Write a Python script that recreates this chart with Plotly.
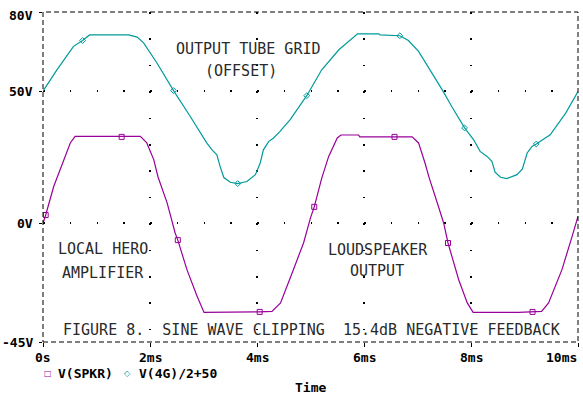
import plotly.graph_objects as go

# ---- data ----
# V(4G)/2+50  (output tube grid, offset)
grid_t = [0.00, 0.26, 0.57, 0.74, 0.87, 1.60, 1.76, 1.88, 2.13, 2.44, 2.75, 2.91,
          3.06, 3.16, 3.25, 3.31, 3.38, 3.50, 3.64, 3.81, 3.97, 4.06, 4.12, 4.22,
          4.31, 4.43, 4.62, 4.93, 5.21, 5.53, 5.84, 5.88, 6.28, 6.30, 6.67, 6.83,
          7.02, 7.27, 7.46, 7.64, 7.88, 8.05, 8.17, 8.30, 8.39, 8.45, 8.55, 8.67,
          8.86, 8.96, 9.05, 9.14, 9.22, 9.48, 9.77, 10.00]
grid_v = [50.0, 58.1, 67.0, 69.2, 71.3, 71.3, 70.5, 68.3, 60.7, 50.2, 40.5, 35.4,
          30.4, 27.8, 25.9, 21.5, 17.3, 15.5, 15.0, 15.8, 18.4, 22.8, 27.8, 31.0,
          32.3, 34.8, 39.2, 48.3, 58.1, 65.7, 71.3, 71.7, 71.7, 71.3, 71.0, 69.2,
          65.1, 56.9, 50.6, 44.2, 36.1, 31.6, 27.2, 25.3, 23.4, 19.3, 17.4, 16.9,
          18.4, 20.6, 26.6, 29.1, 30.0, 33.5, 41.7, 49.9]
grid_mark_t = [0.74, 2.44, 3.64, 4.93, 6.67, 7.88, 9.22]
grid_mark_v = [69.2, 50.2, 15.0, 48.3, 71.0, 36.1, 30.0]

# V(SPKR)  (loudspeaker output)
spkr_t = [0.00, 0.05, 0.20, 0.32, 0.39, 0.51, 0.60, 1.82, 1.94, 2.07, 2.15, 2.32,
          2.47, 2.52, 2.69, 2.88, 3.01, 3.94, 4.05, 4.28, 4.44, 4.68, 4.87, 5.00,
          5.07, 5.21, 5.34, 5.50, 5.57, 5.90, 5.92, 6.90, 7.02, 7.14, 7.22, 7.39,
          7.49, 7.57, 7.77, 7.93, 8.04, 8.89, 9.15, 9.32, 9.45, 9.70, 9.89, 10.00]
spkr_v = [0.0, 3.1, 13.9, 20.3, 24.1, 30.4, 32.9, 32.9, 30.4, 24.1, 17.5, 7.7,
          -3.7, -6.4, -17.6, -27.7, -33.8, -33.8, -33.6, -33.4, -30.2, -17.6, -7.5, 2.0,
          6.2, 17.1, 25.3, 32.3, 33.4, 33.4, 32.7, 32.7, 30.4, 22.8, 17.1, 6.4,
          0.0, -7.5, -21.4, -30.2, -33.8, -33.8, -33.6, -33.4, -30.2, -17.6, -5.0, 2.6]
spkr_mark_t = [0.05, 1.47, 2.52, 4.05, 5.07, 6.57, 7.57, 9.15]
spkr_mark_v = [3.1, 32.7, -6.4, -33.6, 6.2, 32.7, -7.5, -33.6]

x_tickvals = [0, 2, 4, 6, 8, 10]
x_ticktext = ["0s", "2ms", "4ms", "6ms", "8ms", "10ms"]
y_tickvals = [-45, 0, 50, 80]
y_ticktext = ["-45V", "0V", "50V", "80V"]

CYAN = "#009a9a"
PURPLE = "#990099"
MONO = "DejaVu Sans Mono"

W, H = 583, 396
ML, MR, MT, MB = 43, 5, 12, 54
PW, PH = W - ML - MR, H - MT - MB

fig = go.Figure()
fig.add_trace(go.Scatter(x=grid_t, y=grid_v, mode="lines",
                         line=dict(color=CYAN, width=1.2), showlegend=False,
                         name="V(4G)/2+50"))
fig.add_trace(go.Scatter(x=grid_mark_t, y=grid_mark_v, mode="markers",
                         marker=dict(symbol="diamond-open", size=4.5, color=CYAN,
                                     line=dict(width=1, color=CYAN)),
                         showlegend=False, name="V(4G)/2+50"))
fig.add_trace(go.Scatter(x=spkr_t, y=spkr_v, mode="lines",
                         line=dict(color=PURPLE, width=1.2), showlegend=False,
                         name="V(SPKR)"))
fig.add_trace(go.Scatter(x=spkr_mark_t, y=spkr_mark_v, mode="markers",
                         marker=dict(symbol="square-open", size=5, color=PURPLE,
                                     line=dict(width=1, color=PURPLE)),
                         showlegend=False, name="V(SPKR)"))

# dotted grids: dots every 0.5 ms along horizontal lines, every 10 V along vertical lines
h_step = PW / 20.0
v_step = PH / 12.5
DOT = 1.5

fig.update_xaxes(range=[0, 10], tickvals=x_tickvals, showticklabels=False,
                 ticks="outside", ticklen=4, tickcolor="black", tickwidth=1,
                 showgrid=True, gridcolor="black", gridwidth=DOT,
                 griddash="%.2fpx,%.2fpx" % (DOT, v_step - DOT),
                 zeroline=False, showline=False, fixedrange=True)
fig.update_yaxes(range=[-45, 80], tickvals=y_tickvals, showticklabels=False,
                 ticks="outside", ticklen=3, tickcolor="black", tickwidth=1,
                 showgrid=True, gridcolor="black", gridwidth=DOT,
                 griddash="%.2fpx,%.2fpx" % (DOT, h_step - DOT),
                 zeroline=False, showline=False, fixedrange=True)

# dashed plot border
fig.add_shape(type="rect", xref="paper", yref="paper", x0=0, x1=1, y0=0, y1=1,
              line=dict(color="black", width=1, dash="5px,3px"), layer="above")

ann = []
tick_font = dict(family=MONO, size=13, color="black", weight="bold")
for v, t in zip(x_tickvals, x_ticktext):
    a = dict(x=v, y=0, xref="x", yref="paper", text=t, showarrow=False,
             font=tick_font, yanchor="middle", yshift=-15.5)
    if v == x_tickvals[-1]:
        a.update(xanchor="right", xshift=1)
    else:
        a.update(xanchor="center")
    ann.append(a)
for v, t in zip(y_tickvals, y_ticktext):
    ann.append(dict(x=0, y=v, xref="paper", yref="y", text=t, showarrow=False,
                    font=tick_font, xanchor="right", yanchor="middle", xshift=-8,
                    yshift=(-3 if v == y_tickvals[-1] else 0)))

txt_font = dict(family=MONO, size=15, color="#2a2a2a")
labels = [
    ("OUTPUT TUBE GRID", 3.84, 66.1),
    ("(OFFSET)", 3.71, 57.8),
    ("LOCAL HERO", 1.13, -9.8),
    ("AMPLIFIER", 1.12, -18.9),
    ("LOUDSPEAKER", 6.27, -10.3),
    ("OUTPUT", 6.24, -18.0),
    ("FIGURE 8.  SINE WAVE CLIPPING  15.4dB NEGATIVE FEEDBACK", 5.01, -40.6),
]
for t, x, y in labels:
    ann.append(dict(x=x, y=y, xref="x", yref="y", text=t, showarrow=False,
                    font=txt_font, xanchor="center", yanchor="middle"))

# legend row
ann.append(dict(x=0, y=0, xref="paper", yref="paper", text="□", showarrow=False,
                font=dict(family="DejaVu Sans", size=8, color=PURPLE),
                xanchor="center", yanchor="middle", xshift=4.7, yshift=-31))
ann.append(dict(x=0, y=0, xref="paper", yref="paper", text="V(SPKR)", showarrow=False,
                font=tick_font, xanchor="center", yanchor="middle", xshift=42, yshift=-31))
ann.append(dict(x=0, y=0, xref="paper", yref="paper", text="◇", showarrow=False,
                font=dict(family="DejaVu Sans", size=8, color=CYAN),
                xanchor="center", yanchor="middle", xshift=84.5, yshift=-31))
ann.append(dict(x=0, y=0, xref="paper", yref="paper", text="V(4G)/2+50", showarrow=False,
                font=tick_font, xanchor="center", yanchor="middle", xshift=135, yshift=-31))
ann.append(dict(x=0.5, y=0, xref="paper", yref="paper", text="Time", showarrow=False,
                font=tick_font, xanchor="center", yanchor="middle", yshift=-45.5))

fig.update_layout(width=W, height=H, margin=dict(l=ML, r=MR, t=MT, b=MB),
                  paper_bgcolor="white", plot_bgcolor="white",
                  annotations=ann, showlegend=False, hovermode=False)

fig.write_html("out.html", config={"displayModeBar": False},
               post_script="document.body.style.margin='0';document.body.style.overflow='hidden';")
